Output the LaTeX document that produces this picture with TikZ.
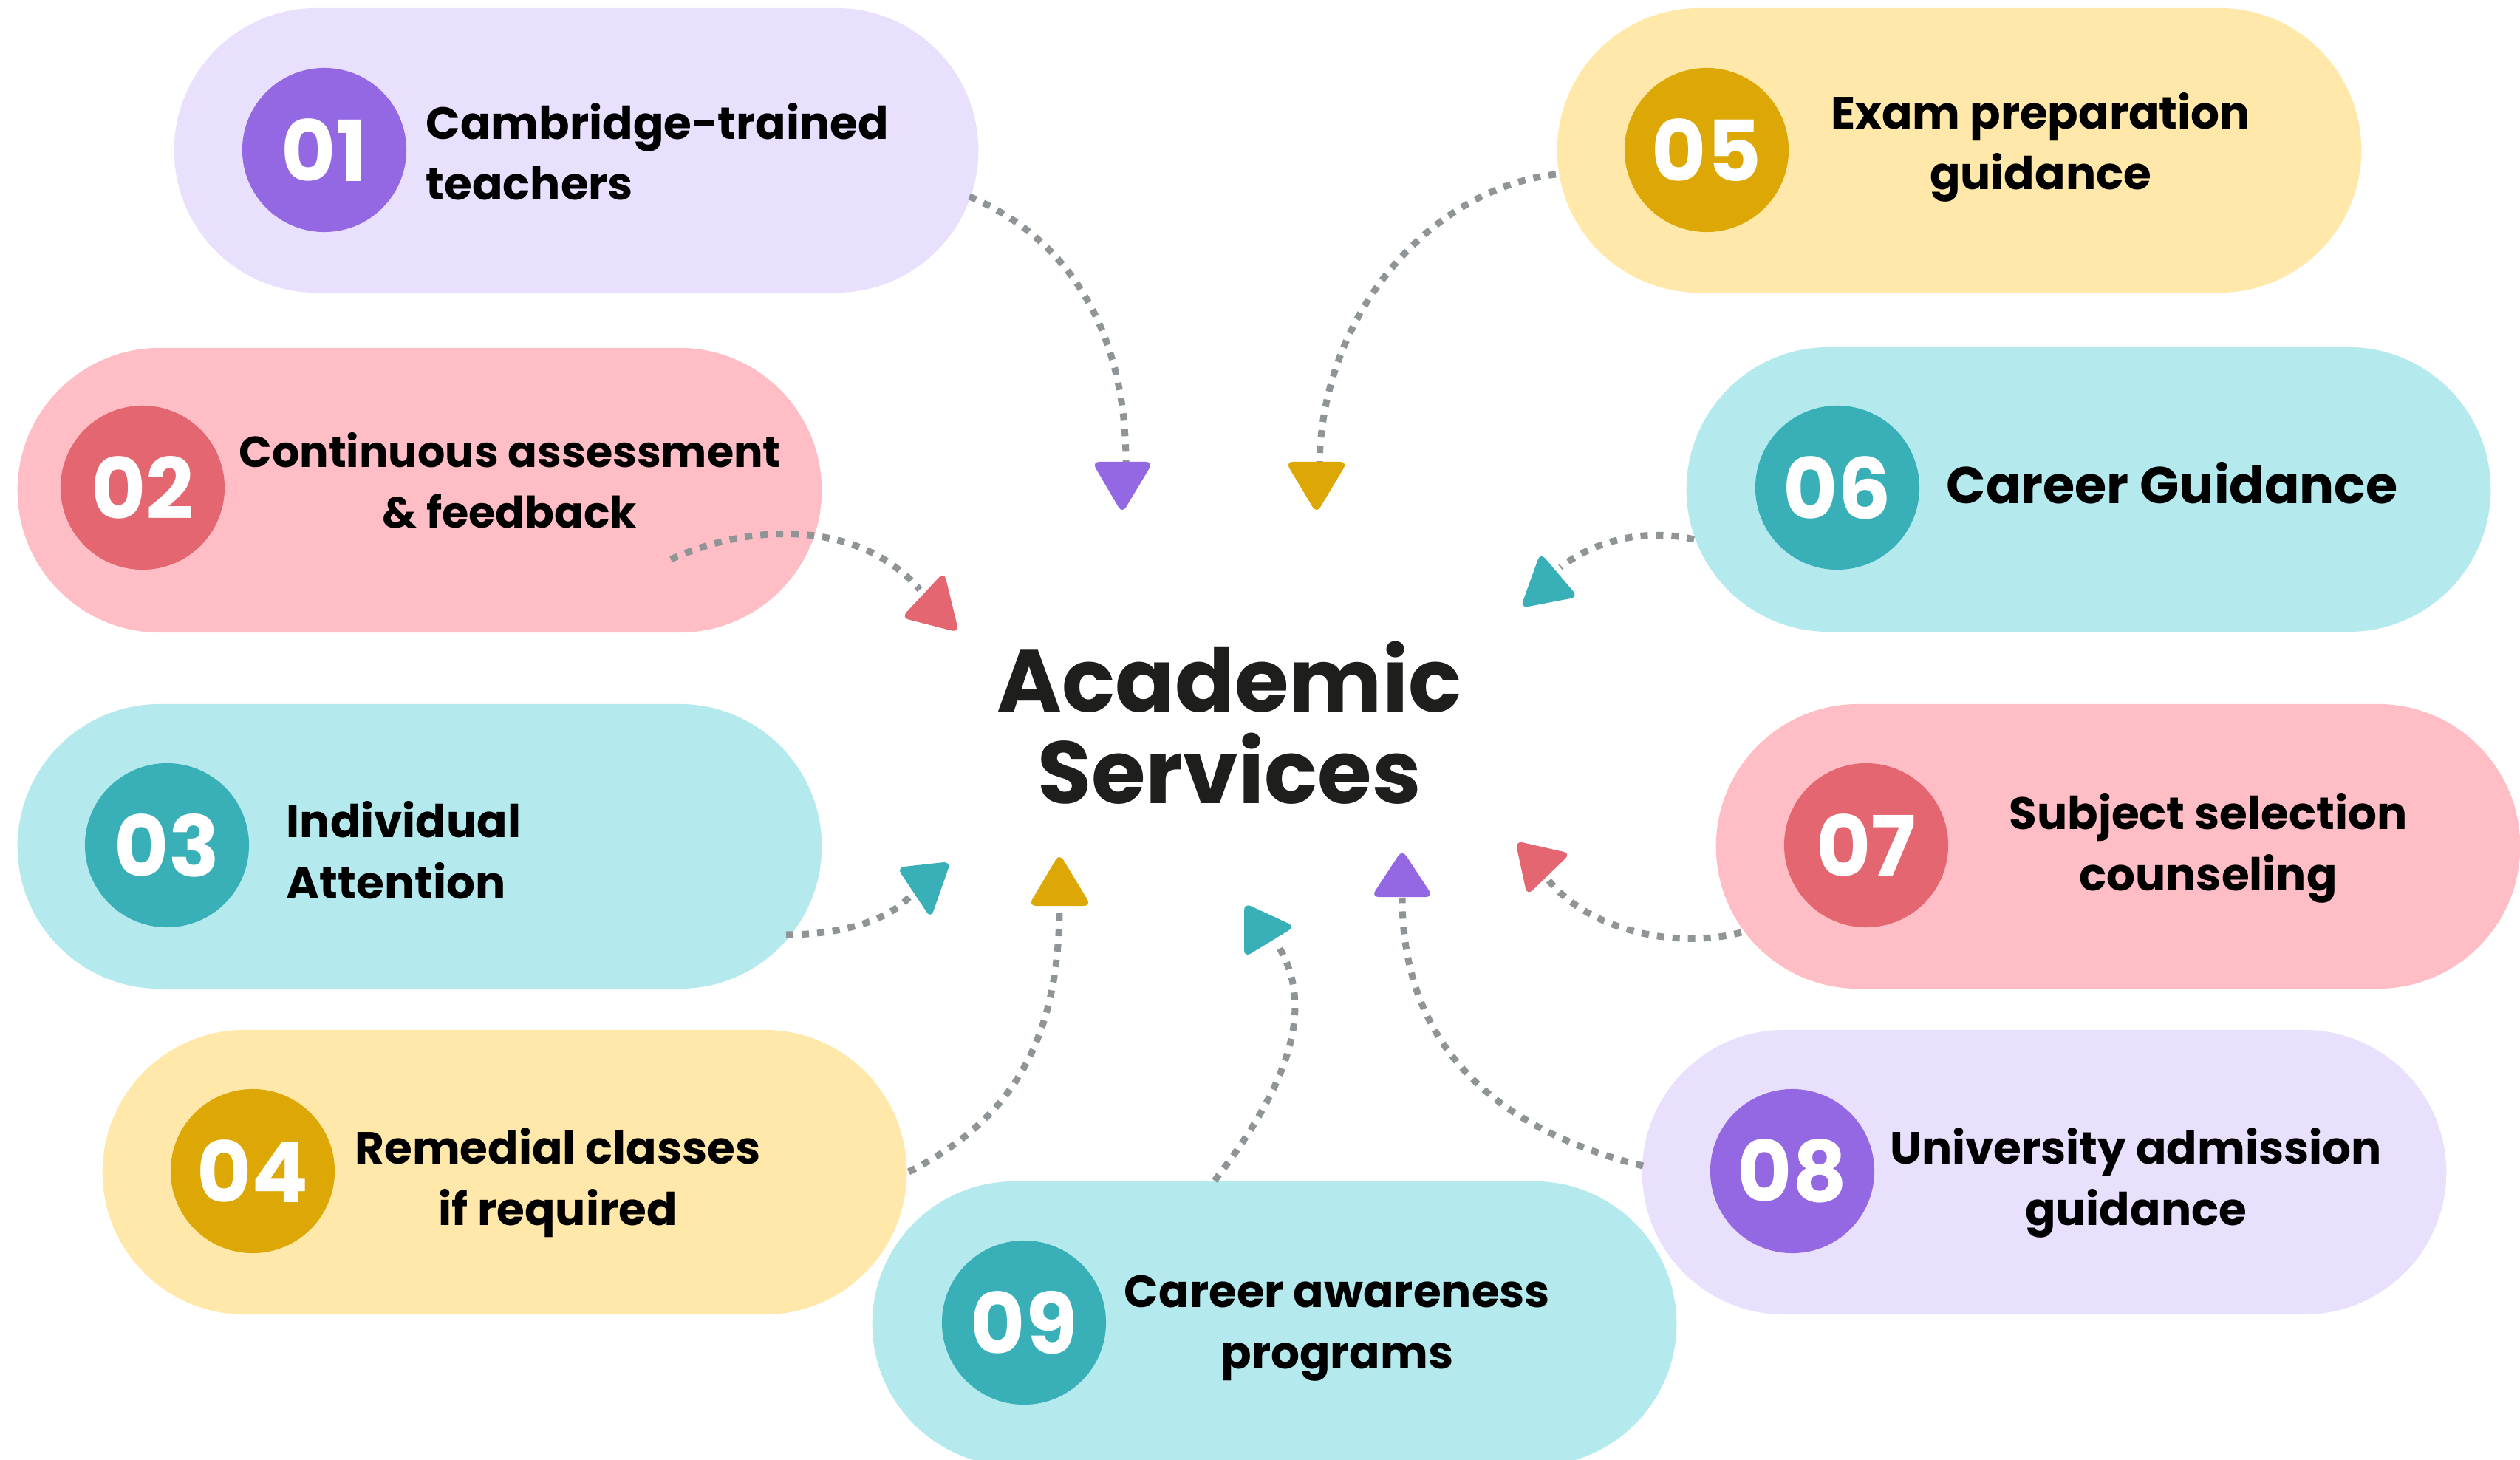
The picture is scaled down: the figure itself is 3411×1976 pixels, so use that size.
\documentclass[tikz,border=0pt]{standalone}
\usepackage{fontspec}
\setmainfont{Poppins}
\definecolor{lavlight}{HTML}{E9E0FE}
\definecolor{lavdark}{HTML}{9368E2}
\definecolor{pinklight}{HTML}{FFBEC5}
\definecolor{reddark}{HTML}{E46670}
\definecolor{teallight}{HTML}{B4EAED}
\definecolor{tealdark}{HTML}{39AFB7}
\definecolor{yellight}{HTML}{FFE8A9}
\definecolor{yeldark}{HTML}{DDA705}
\definecolor{dotgray}{HTML}{8F9497}
\definecolor{titleblack}{HTML}{1E1E1C}
\tikzset{
  pill/.style={rectangle, rounded corners=1.925cm, minimum width=10.88cm, minimum height=3.85cm, inner sep=0pt, draw=none},
  badge/.style={circle, minimum size=2.22cm, inner sep=0pt, text=white, font=\fontsize{32.4pt}{32.4pt}\selectfont\bfseries},
  lbl/.style={inner sep=0pt, text=black, font=\fontsize{17.4pt}{23.6pt}\selectfont\bfseries},
  smalllbl/.style={inner sep=0pt, text=black, font=\fontsize{16.7pt}{23.6pt}\selectfont\bfseries},
  biglbl/.style={inner sep=0pt, text=black, font=\fontsize{19.9pt}{24pt}\selectfont\bfseries},
  titlelbl/.style={inner sep=0pt, text=titleblack, align=center, font=\fontsize{33.9pt}{35pt}\selectfont\bfseries},
  link/.style={draw=dotgray, line width=0.09cm, dash pattern=on 0.1cm off 0.11cm},
  tipshape/.style={rounded corners=0.1cm},
}
\begin{document}
\begin{tikzpicture}[x=0.01cm, y=-0.01cm]
\useasboundingbox (0,0) rectangle (3411,1976);

% pills
\node[pill, fill=lavlight]  (p1) at (780,203.5) {};
\node[pill, fill=pinklight] (p2) at (568,663.5) {};
\node[pill, fill=teallight] (p3) at (568,1145.5) {};
\node[pill, fill=yellight]  (p4) at (683,1586.5) {};
\node[pill, fill=teallight] (p9) at (1725,1791.5) {};
\node[pill, fill=yellight]  (p5) at (2652,203.5) {};
\node[pill, fill=teallight] (p6) at (2827,662.5) {};
\node[pill, fill=pinklight] (p7) at (2867,1145.5) {};
\node[pill, fill=lavlight]  (p8) at (2767,1586.5) {};

% badges
\node[badge, fill=lavdark]  (b1) at (439,203) {01};
\node[badge, fill=reddark]  (b2) at (193,660) {02};
\node[badge, fill=tealdark] (b3) at (226,1144) {03};
\node[badge, fill=yeldark]  (b4) at (342,1585) {04};
\node[badge, fill=yeldark]  (b5) at (2310,203) {05};
\node[badge, fill=tealdark] (b6) at (2487,660) {06};
\node[badge, fill=reddark]  (b7) at (2526,1144) {07};
\node[badge, fill=lavdark]  (b8) at (2426,1585) {08};
\node[badge, fill=tealdark] (b9) at (1386,1790) {09};

% labels (anchor = baseline of the last line)
\node[lbl, align=left, anchor=base west] (t1) at (576,271) {Cambridge-trained\\teachers};
\node[smalllbl, align=center, anchor=base] (t2) at (690,715) {Continuous assessment\\\& feedback};
\node[lbl, align=left, anchor=base west] (t3) at (387,1216) {Individual\\Attention};
\node[lbl, align=center, anchor=base] (t4) at (755,1658) {Remedial classes\\if required};
\node[lbl, align=center, anchor=base] (t5) at (2762,257) {Exam preparation\\guidance};
\node[biglbl, anchor=base west] (t6) at (2634,682) {Career Guidance};
\node[lbl, align=center, anchor=base] (t7) at (2989,1205) {Subject selection\\counseling};
\node[lbl, align=center, anchor=base] (t8) at (2891,1658) {University admission\\guidance};
\node[lbl, align=center, anchor=base] (t9) at (1810,1852) {Career awareness\\programs};

% centre title
\node[titlelbl, anchor=base] (title) at (1664,1087) {Academic\\Services};

% connector end points
\coordinate (s1) at (1312,266);  \coordinate (e1) at (1524,626);
\coordinate (s5) at (2106,236);  \coordinate (e5) at (1786,626);
\coordinate (s2) at (908,757);   \coordinate (e2) at (1245,798);
\coordinate (s6) at (2293,730);  \coordinate (e6) at (2112,768);
\coordinate (s3) at (1064,1265); \coordinate (e3) at (1238,1205);
\coordinate (s4) at (1230,1586); \coordinate (e4) at (1434,1226);
\coordinate (s9) at (1644,1598); \coordinate (e9) at (1730,1280);
\coordinate (s8) at (2224,1578); \coordinate (e8) at (1898,1215);
\coordinate (s7) at (2357,1262); \coordinate (e7) at (2095,1190);

% dotted connectors
\draw[link] (s1) .. controls (1440,320) and (1524,440) .. (e1);
\draw[link] (s5) .. controls (1940,255) and (1790,420) .. (e5);
\draw[link] (s2) .. controls (1010,710) and (1160,700) .. (e2);
\draw[link] (s6) .. controls (2230,715) and (2160,730) .. (e6);
\draw[link] (s3) .. controls (1150,1265) and (1215,1240) .. (e3);
\draw[link] (s4) .. controls (1360,1520) and (1434,1420) .. (e4);
\draw[link] (s9) .. controls (1735,1480) and (1785,1370) .. (e9);
\draw[link] (s8) .. controls (2030,1530) and (1898,1420) .. (e8);
\draw[link] (s7) .. controls (2270,1285) and (2150,1260) .. (e7);

% arrow heads
\fill[lavdark, tipshape]  (1478,625) -- (1561,625) -- (1519,695) -- cycle;
\fill[yeldark, tipshape]  (1740,625) -- (1824,625) -- (1782,695) -- cycle;
\fill[reddark, tipshape]  (1278,774) -- (1298,856) -- (1220,836) -- cycle;
\fill[tealdark, tipshape] (2085,748) -- (2136,808) -- (2058,823) -- cycle;
\fill[tealdark, tipshape] (1214,1174) -- (1287,1166) -- (1260,1243) -- cycle;
\fill[yeldark, tipshape]  (1434,1155) -- (1477,1226) -- (1392,1226) -- cycle;
\fill[tealdark, tipshape] (1684,1222) -- (1753,1254) -- (1684,1296) -- cycle;
\fill[lavdark, tipshape]  (1898,1150) -- (1940,1214) -- (1856,1214) -- cycle;
\fill[reddark, tipshape]  (2051,1138) -- (2126,1155) -- (2067,1212) -- cycle;
\end{tikzpicture}
\end{document}
